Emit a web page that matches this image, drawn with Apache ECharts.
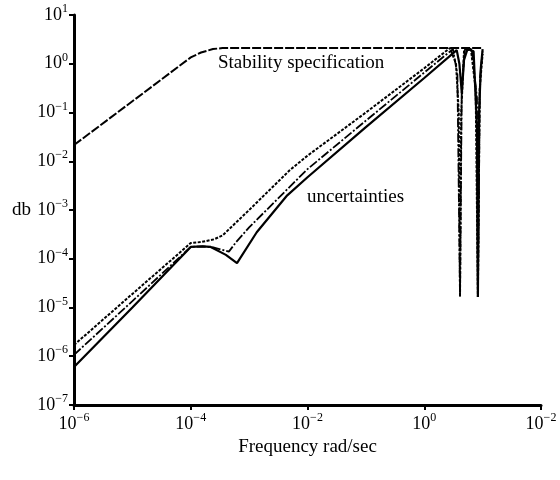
<!DOCTYPE html>
<html>
<head>
<meta charset="utf-8">
<script src="https://cdn.jsdelivr.net/npm/echarts@6/dist/echarts.min.js"></script>
<style>
  html, body { margin: 0; padding: 0; background: #fff; }
  #main { width: 560px; height: 480px; }
</style>
</head>
<body>
<div id="main"></div>
<script>
// tick labels (exponents of 10, as printed)
var xTickValues = [1e-6, 1e-4, 1e-2, 1, 100];
var xTickExps = ['−6', '−4', '−2', '0', '−2'];
var yTickValues = [1e-7, 1e-6, 1e-5, 1e-4, 1e-3, 1e-2, 1e-1, 1, 10];
var yTickExps = ['−7', '−6', '−5', '−4', '−3', '−2', '−1', '0', '1'];

// stability specification
var specX = [1e-6, 1e-5, 1e-4, 1.5e-4, 2.4e-4, 3.5e-4, 1e-3, 1e-2, 1e-1, 1, 10];
var specY = [0.0215, 0.17, 1.35, 1.7, 2.0, 2.1, 2.1, 2.1, 2.1, 2.1, 2.1];

// uncertainty 1 (dotted)
var unc1X = [1e-6, 1e-5, 1e-4, 1.5e-4, 2.5e-4, 3.5e-4, 1e-3, 5e-3, 1e-2, 1e-1, 1, 2.75, 3.5, 3.9, 4.1, 4.3, 4.8, 6.3, 7.6, 8.3, 8.9, 10];
var unc1Y = [1.7e-6, 1.9e-5, 2.1e-4, 2.2e-4, 2.5e-4, 3.0e-4, 1.0e-3, 6.6e-3, 1.3e-2, 0.1, 0.81, 2.1, 1.0, 0.1, 1.65e-5, 0.1, 1.8, 2.0, 0.3, 1.65e-5, 0.3, 1.6];

// uncertainty 2 (dash-dot)
var unc2X = [1e-6, 1e-5, 1e-4, 1.6e-4, 2.5e-4, 4.5e-4, 6e-4, 1e-3, 1e-2, 1e-1, 1, 3.1, 3.7, 4.1, 4.4, 5.0, 6.5, 8.0, 8.3, 9.0, 10];
var unc2Y = [1.07e-6, 1.35e-5, 1.75e-4, 1.8e-4, 1.7e-4, 1.4e-4, 2.2e-4, 4.4e-4, 6.9e-3, 0.068, 0.66, 2.0, 0.6, 1.65e-5, 0.4, 2.0, 2.0, 0.2, 1.65e-5, 0.5, 1.8];

// uncertainty 3 (solid)
var unc3X = [1e-6, 1e-5, 1e-4, 1.6e-4, 2.2e-4, 4e-4, 6.2e-4, 1.35e-3, 4.5e-3, 1e-2, 1e-1, 1, 3.6, 4.0, 4.4, 4.8, 5.5, 7.0, 8.0, 8.3, 8.7, 9.3, 10];
var unc3Y = [6e-7, 1.0e-5, 1.75e-4, 1.8e-4, 1.75e-4, 1.2e-4, 8.1e-5, 3.5e-4, 2.0e-3, 4.7e-3, 0.05, 0.51, 1.9, 1.0, 0.25, 1.2, 2.0, 1.8, 0.05, 1.65e-5, 0.1, 0.8, 2.0];

function pairs(xs, ys) {
  return xs.map(function (x, i) { return [x, ys[i]]; });
}
function nearest(vals, v) {
  var best = 0;
  for (var i = 1; i < vals.length; i++) {
    if (Math.abs(Math.log10(vals[i] / v)) < Math.abs(Math.log10(vals[best] / v))) best = i;
  }
  return best;
}

var serif = 'Liberation Serif';
var richLabel = {
  b: { fontFamily: serif, fontSize: 18, color: '#000', lineHeight: 24 },
  e: { fontFamily: serif, fontSize: 12, color: '#000', verticalAlign: 'top', lineHeight: 12 }
};

var myChart = echarts.init(document.getElementById('main'));
var option = {
  backgroundColor: '#fff',
  animation: false,
  grid: { left: 74, right: 19, top: 15, bottom: 75 },
  xAxis: {
    type: 'log',
    logBase: 10,
    min: 1e-6,
    max: 100,
    interval: 2,
    name: 'Frequency rad/sec',
    nameLocation: 'middle',
    nameGap: 31,
    nameTextStyle: { fontFamily: serif, fontSize: 19, color: '#000' },
    axisLine: { lineStyle: { color: '#000', width: 3 } },
    axisTick: { length: 5, lineStyle: { color: '#000', width: 2 } },
    axisLabel: {
      margin: 7,
      formatter: function (v) {
        return '{b|10}{e|' + xTickExps[nearest(xTickValues, v)] + '}';
      },
      rich: richLabel
    },
    splitLine: { show: false }
  },
  yAxis: {
    type: 'log',
    logBase: 10,
    min: 1e-7,
    max: 10,
    interval: 1,
    name: 'db',
    nameLocation: 'middle',
    nameRotate: 0,
    nameGap: 43,
    nameTextStyle: { fontFamily: serif, fontSize: 19, color: '#000', padding: [52, 0, 0, 0] },
    axisLine: { lineStyle: { color: '#000', width: 3 } },
    axisTick: { length: 5, lineStyle: { color: '#000', width: 2 } },
    axisLabel: {
      margin: 6,
      formatter: function (v) {
        return '{b|10}{e|' + yTickExps[nearest(yTickValues, v)] + '}';
      },
      rich: richLabel
    },
    splitLine: { show: false }
  },
  graphic: [
    { type: 'text', left: 218, top: 54, style: { text: 'Stability specification', font: '19px "Liberation Serif"', fill: '#000' } },
    { type: 'text', left: 307, top: 188, style: { text: 'uncertainties', font: '19px "Liberation Serif"', fill: '#000' } }
  ],
  series: [
    {
      name: 'Stability specification',
      type: 'line',
      showSymbol: false,
      data: pairs(specX, specY),
      lineStyle: { color: '#000', width: 2, type: [9, 2] }
    },
    {
      name: 'uncertainty 1',
      type: 'line',
      showSymbol: false,
      data: pairs(unc1X, unc1Y),
      lineStyle: { color: '#000', width: 2, type: [3, 1.5] }
    },
    {
      name: 'uncertainty 2',
      type: 'line',
      showSymbol: false,
      data: pairs(unc2X, unc2Y),
      lineStyle: { color: '#000', width: 1.8, type: [9, 2, 2, 2] }
    },
    {
      name: 'uncertainty 3',
      type: 'line',
      showSymbol: false,
      data: pairs(unc3X, unc3Y),
      lineStyle: { color: '#000', width: 2.2 }
    }
  ]
};
myChart.setOption(option);
window.addEventListener('resize', function () {
  myChart.resize();
});
</script>
</body>
</html>
